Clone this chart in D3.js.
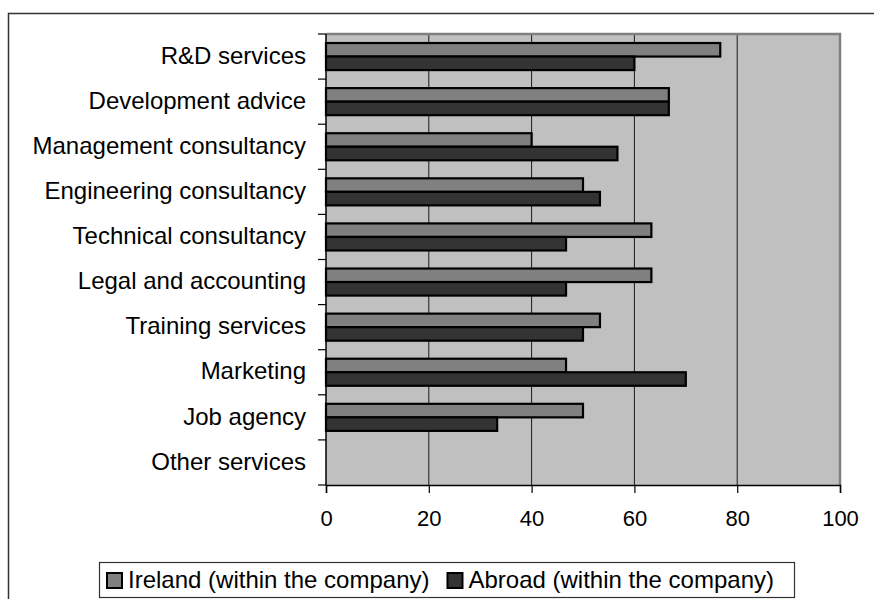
<!DOCTYPE html>
<html>
<head>
<meta charset="utf-8">
<script src="https://cdn.jsdelivr.net/npm/d3@7"></script>
<style>
  html, body { margin: 0; padding: 0; background: #fff; }
  svg { display: block; font-family: Arial, "Liberation Sans", sans-serif; }
</style>
</head>
<body>
<svg id="chart" width="874" height="599"></svg>
<script>
// Service categories, top to bottom
const categories = [
  "R&D services", "Development advice", "Management consultancy",
  "Engineering consultancy", "Technical consultancy", "Legal and accounting",
  "Training services", "Marketing", "Job agency", "Other services"
];
const seriesNames = ["Ireland (within the company)", "Abroad (within the company)"];
// Share of companies (%) sourcing each service
const irelandValues = [76.7, 66.7, 40.0, 50.0, 63.3, 63.3, 53.3, 46.7, 50.0, 0];
const abroadValues  = [60.0, 66.7, 56.7, 53.3, 46.7, 46.7, 50.0, 70.0, 33.3, 0];
const xTicks = [0, 20, 40, 60, 80, 100];
const seriesColors = ["#808080", "#333333"];

const svg = d3.select("#chart");

// Outer chart frame (runs off the right and bottom of the page)
svg.append("rect")
  .attr("x", 8.5).attr("y", 13.5)
  .attr("width", 900).attr("height", 620)
  .attr("fill", "#fff").attr("stroke", "#333").attr("stroke-width", 1.5);

const plot = { left: 326, right: 840, top: 34, bottom: 485 };

const x = d3.scaleLinear().domain([0, 100]).range([plot.left, plot.right]);
const y = d3.scaleBand().domain(categories).range([plot.top, plot.bottom]).paddingInner(0.4).paddingOuter(0.2);
const ySeries = d3.scaleBand().domain(seriesNames).range([0, y.bandwidth()]);

// Plot background
svg.append("rect")
  .attr("x", plot.left).attr("y", plot.top)
  .attr("width", plot.right - plot.left).attr("height", plot.bottom - plot.top)
  .attr("fill", "#c0c0c0");

// Vertical gridlines
svg.append("g").selectAll("line")
  .data(xTicks.filter(d => d > 0 && d < 100))
  .join("line")
  .attr("x1", d => x(d)).attr("x2", d => x(d))
  .attr("y1", plot.top).attr("y2", plot.bottom)
  .attr("stroke", "#1a1a1a").attr("stroke-width", 1);

// Plot area border (top and right)
svg.append("path")
  .attr("d", `M${plot.left},${plot.top} H${plot.right} V${plot.bottom}`)
  .attr("fill", "none").attr("stroke", "#808080").attr("stroke-width", 2.5);

// Bars
const rows = categories.map((c, i) => ({ c, vals: [irelandValues[i], abroadValues[i]] }));
const groups = svg.append("g").selectAll("g")
  .data(rows)
  .join("g")
  .attr("transform", d => `translate(0,${y(d.c)})`);

groups.selectAll("rect")
  .data(d => d.vals.map((v, k) => ({ v, k })).filter(e => e.v > 0))
  .join("rect")
  .attr("x", x(0))
  .attr("y", e => ySeries(seriesNames[e.k]))
  .attr("width", e => x(e.v) - x(0))
  .attr("height", ySeries.bandwidth())
  .attr("fill", e => seriesColors[e.k])
  .attr("stroke", "#000").attr("stroke-width", 2.2);

// Category axis: ticks between categories
const boundaries = d3.range(categories.length + 1).map(i => plot.top + i * (plot.bottom - plot.top) / categories.length);
svg.append("line")
  .attr("x1", plot.left).attr("x2", plot.left)
  .attr("y1", plot.top).attr("y2", plot.bottom)
  .attr("stroke", "#000").attr("stroke-width", 1.5);
svg.append("g").selectAll("line")
  .data(boundaries)
  .join("line")
  .attr("x1", plot.left - 8).attr("x2", plot.left)
  .attr("y1", d => d).attr("y2", d => d)
  .attr("stroke", "#000").attr("stroke-width", 1.2);

svg.append("g").selectAll("text")
  .data(categories)
  .join("text")
  .attr("x", 306)
  .attr("y", d => y(d) + y.bandwidth() / 2)
  .attr("dy", "0.3em")
  .attr("text-anchor", "end")
  .attr("font-size", "24px")
  .attr("fill", "#000")
  .text(d => d);

// Value axis
const xAxis = d3.axisBottom(x).tickValues(xTicks).tickSize(8).tickPadding(17).tickFormat(d3.format("d"));
const gx = svg.append("g")
  .attr("transform", `translate(0,${plot.bottom})`)
  .call(xAxis);
gx.select(".domain").attr("stroke", "#000").attr("stroke-width", 1.5);
gx.selectAll(".tick line").attr("stroke", "#000").attr("stroke-width", 1.2);
gx.selectAll(".tick text")
  .attr("font-size", "22px")
  .attr("font-family", "Arial, 'Liberation Sans', sans-serif")
  .attr("fill", "#000");

// Legend: swatch + label per series, laid out left to right
const legend = svg.append("g");
legend.append("rect")
  .attr("x", 99.5).attr("y", 562.5)
  .attr("width", 695).attr("height", 35)
  .attr("fill", "#fff").attr("stroke", "#333").attr("stroke-width", 1.2);

let cursor = 107;
seriesNames.forEach((name, k) => {
  legend.append("rect")
    .attr("x", cursor).attr("y", 573)
    .attr("width", 15).attr("height", 15)
    .attr("fill", seriesColors[k])
    .attr("stroke", "#000").attr("stroke-width", 2);
  const t = legend.append("text")
    .attr("x", cursor + 21).attr("y", 588)
    .attr("font-size", "24px")
    .attr("fill", "#000")
    .text(name);
  cursor += 21 + t.node().getComputedTextLength() + 18;
});
</script>
</body>
</html>
